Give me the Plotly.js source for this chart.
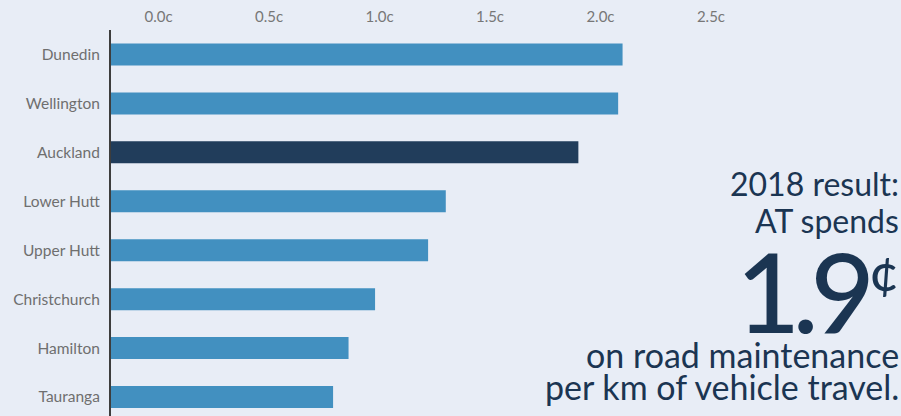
<!DOCTYPE html>
<html>
<head>
<meta charset="utf-8">
<script src="https://cdn.plot.ly/plotly-3.0.1.min.js"></script>
<style>
html,body{margin:0;padding:0;background:#e8edf6;}
#chart{width:901px;height:416px;}
</style>
</head>
<body>
<div id="chart"></div>
<script>
// Data
const cities = ["Dunedin", "Wellington", "Auckland", "Lower Hutt", "Upper Hutt", "Christchurch", "Hamilton", "Tauranga"];
const centsPerKm = [2.10, 2.08, 1.90, 1.30, 1.22, 0.98, 0.86, 0.79];
const highlightCity = "Auckland";
const tickValues = [0, 0.5, 1.0, 1.5, 2.0, 2.5];
const tickLabels = ["0.0c", "0.5c", "1.0c", "1.5c", "2.0c", "2.5c"];
const headline = ["2018 result:", "AT spends"];
const bigValue = "1.9";
const bigUnit = "¢";
const footline = ["on road maintenance", "per km of vehicle travel."];

// Layout constants
const AXIS_MIN = -0.215;
const AXIS_MAX = 3.36;
const BG = "#e8edf6";
const BAR_BLUE = "#4290c0";
const BAR_DARK = "#213d5b";
const TEXT_DARK = "#1b3552";
const FONT = "Lato, 'Open Sans', sans-serif";

const trace = {
  type: "bar",
  orientation: "h",
  y: cities,
  x: centsPerKm.map(v => v - AXIS_MIN),
  base: AXIS_MIN,
  marker: {color: cities.map(c => c === highlightCity ? BAR_DARK : BAR_BLUE)},
  hoverinfo: "none"
};

const plotTop = 29.5, plotBottom = 416;
const H = plotBottom - plotTop;
const py = px => (plotBottom - px) / H;

function note(text, ypx, size, extra) {
  return Object.assign({
    text: text, xref: "paper", yref: "paper", x: 1, y: py(ypx),
    xanchor: "right", yanchor: "middle", showarrow: false,
    font: {size: size, color: TEXT_DARK, family: FONT}
  }, extra || {});
}

const layout = {
  width: 901, height: 416,
  paper_bgcolor: BG, plot_bgcolor: BG,
  margin: {l: 111, r: 0, t: plotTop, b: 0, pad: 0},
  bargap: 0.55,
  showlegend: false,
  font: {family: FONT},
  xaxis: {
    side: "top",
    range: [AXIS_MIN, AXIS_MAX],
    tickvals: tickValues,
    ticktext: tickLabels,
    showgrid: false, zeroline: false, showline: false,
    ticks: "",
    tickfont: {size: 15, color: "#777777", family: FONT},
    ticklabelstandoff: 4
  },
  yaxis: {
    type: "category",
    range: [-0.5 + H / 49, -0.5],
    showgrid: false, zeroline: false,
    showline: true, linecolor: "#3d3d3d", linewidth: 2,
    ticks: "",
    ticklabelstandoff: 6,
    tickfont: {size: 15.5, color: "#6f6f6f", family: FONT}
  },
  annotations: [
    note(headline[0], 183.5, 32),
    note(headline[1], 220.5, 32),
    note('<span style="letter-spacing:-8px">' + bigValue + '</span>', 290, 111,
         {x: (871 - 111) / 790, font: {size: 111, color: TEXT_DARK, family: FONT, weight: 500}}),
    note(bigUnit, 271, 52, {font: {size: 52, color: TEXT_DARK, family: FONT, weight: 500}}),
    note(footline[0], 354.5, 34),
    note(footline[1], 386, 34)
  ]
};

Plotly.newPlot("chart", [trace], layout, {displayModeBar: false, staticPlot: true});
</script>
</body>
</html>
